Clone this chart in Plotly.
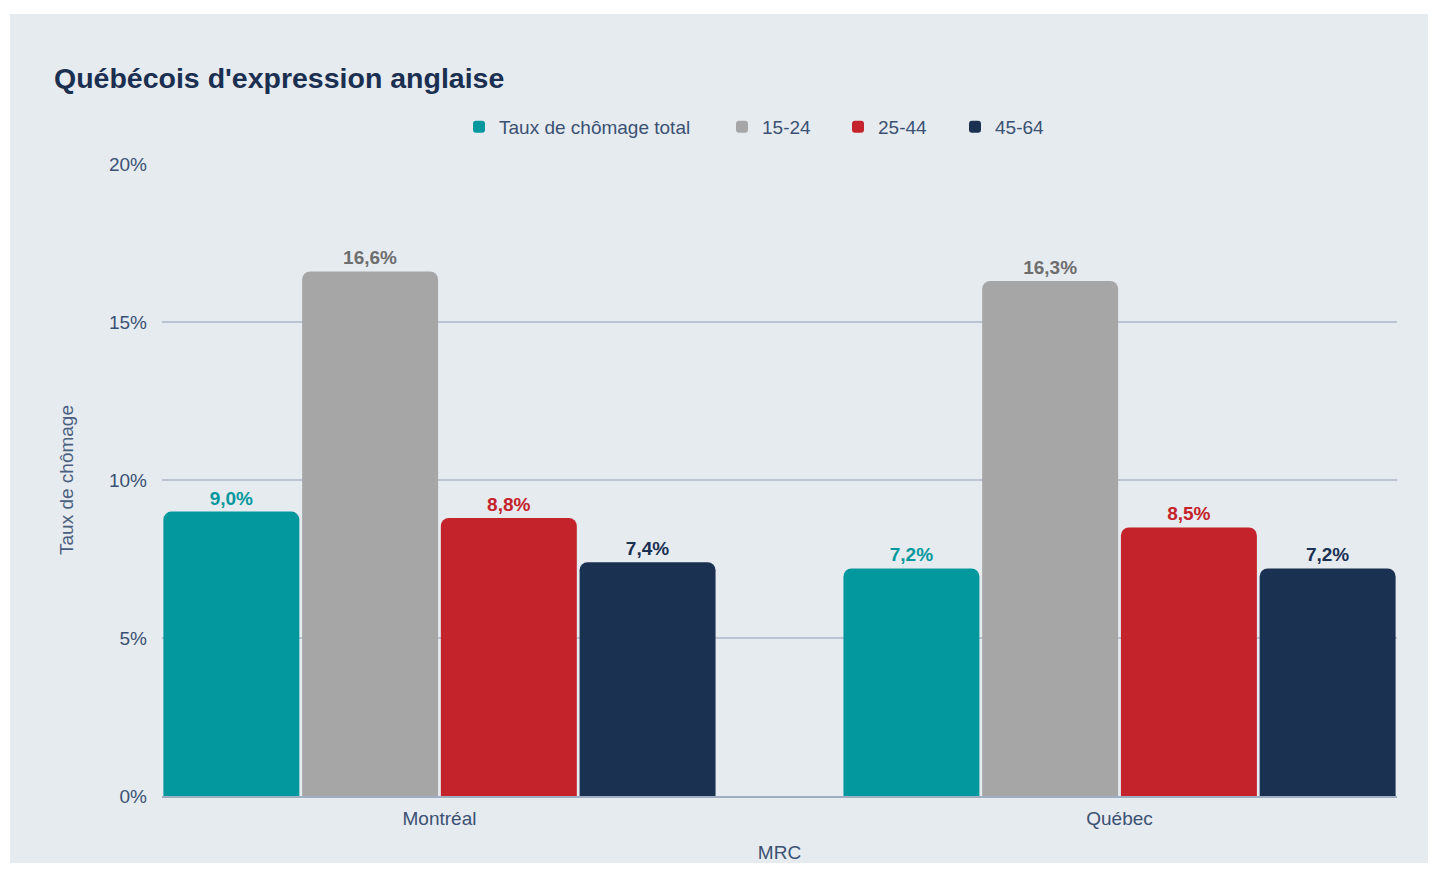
import plotly.graph_objects as go

categories = ["Montréal", "Québec"]
series_names = ["Taux de chômage total", "15-24", "25-44", "45-64"]
total = [9.0, 7.2]
age_15_24 = [16.6, 16.3]
age_25_44 = [8.8, 8.5]
age_45_64 = [7.4, 7.2]
y_ticks = [0, 5, 10, 15, 20]
y_tick_labels = ["0%", "5%", "10%", "15%", "20%"]

colors = ["#03989e", "#a6a6a6", "#c4232b", "#1b3152"]
label_colors = ["#03989e", "#6e6e6e", "#c4232b", "#1b3152"]
values = [total, age_15_24, age_25_44, age_45_64]

W, H = 1428, 855
L, R, T, B = 154, 39, 156, 67
font_family = "Liberation Sans, Arial, sans-serif"
card = "#e6ebf0"
tick_color = "#3b5173"

pw = W - L - R
ph = H - T - B

# legend text start positions (figure px)
legend_text_px = [491, 754, 870, 987]
legend_ids = ["legend", "legend2", "legend3", "legend4"]

fig = go.Figure()
for name, vals, col, lcol, lid in zip(series_names, values, colors, label_colors, legend_ids):
    fig.add_trace(go.Bar(
        x=categories, y=vals, name=name,
        marker=dict(color=col, cornerradius=8, line=dict(width=0)),
        texttemplate="<b>%{y:.1f}%</b>",
        textposition="outside",
        textfont=dict(color=lcol, size=19, family=font_family),
        cliponaxis=False,
        legend=lid,
        showlegend=True,
    ))

# white strips at top and left of the card
fig.add_shape(type="rect", xref="paper", yref="paper",
              x0=-L / pw - 0.05, x1=(W - L) / pw + 0.05,
              y0=(H - B - 6) / ph, y1=(H - B) / ph + 0.05,
              fillcolor="white", line=dict(width=0), layer="below")
fig.add_shape(type="rect", xref="paper", yref="paper",
              x0=-L / pw - 0.05, x1=(2 - L) / pw,
              y0=-B / ph - 0.05, y1=(H - B) / ph + 0.05,
              fillcolor="white", line=dict(width=0), layer="below")

legend_common = dict(orientation="h", xanchor="left", yanchor="middle",
                     y=(H - B - 119) / ph,
                     font=dict(size=19, color=tick_color),
                     bgcolor="rgba(0,0,0,0)", itemclick=False)
legends = {}
for lid, tx in zip(legend_ids, legend_text_px):
    legends[lid] = dict(legend_common, x=(tx - 40 - L) / pw, visible=True)

fig.update_layout(
    width=W, height=H,
    showlegend=True,
    margin=dict(l=L, r=R, t=T, b=B, autoexpand=False),
    paper_bgcolor=card,
    plot_bgcolor=card,
    separators=", ",
    barmode="group",
    bargap=0.184,
    bargroupgap=0.02,
    font=dict(family=font_family, color=tick_color, size=19),
    title=dict(text="<b>Québécois d'expression anglaise</b>",
               x=46 / W, xref="container", xanchor="left",
               y=1 - 70 / H, yref="container", yanchor="middle",
               font=dict(size=28.5, color="#1b2f50", family=font_family)),
    xaxis=dict(range=[-0.408, 1.408], showline=True, linecolor="#9fadc1",
               linewidth=1.5, ticks="", showgrid=False,
               ticklabelstandoff=4,
               title=dict(text="MRC", standoff=44, font=dict(size=19, color=tick_color))),
    yaxis=dict(range=[0, 20], tickvals=y_ticks, ticktext=y_tick_labels,
               showgrid=True, gridcolor="#b9c3d1", gridwidth=1.5,
               zeroline=False, ticks="", ticklabelstandoff=14,
               title=dict(text="Taux de chômage", standoff=30,
                          font=dict(size=19, color="#4a5f80"))),
    **legends,
)

fig.write_html("out.html")
